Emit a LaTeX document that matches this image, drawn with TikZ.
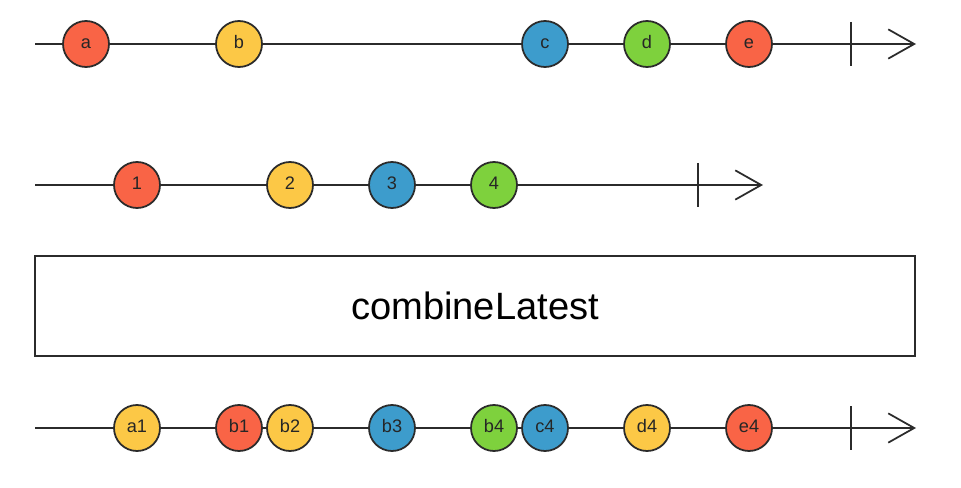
\documentclass[tikz,border=0pt]{standalone}
\usepackage{fontspec}
\setmainfont{Liberation Sans}
\usetikzlibrary{arrows.meta}
\definecolor{marbleRed}{HTML}{F96446}
\definecolor{marbleYellow}{HTML}{FCC846}
\definecolor{marbleBlue}{HTML}{3D9CCC}
\definecolor{marbleGreen}{HTML}{7ED13D}
\definecolor{lineGray}{HTML}{2B2B2B}

\begin{document}
\begin{tikzpicture}
[x=0.03cm,y=-0.03cm,
  lineDecorate/.style={draw=lineGray,line width=1.5pt},%
  arrowDecorate/.style={lineDecorate,-{Straight Barb[length=0.78cm 0,width=0.88cm 0]}},
  marbleDecorate/.style={shape=circle,draw=lineGray,line width=1.5pt,minimum size=1.38cm,
    inner sep=0pt,text=black!85,text height=0.716em,text depth=0pt,
    font=\fontsize{15.5}{15.5}\selectfont},
  opDecorate/.style={draw=lineGray,line width=1.5pt,minimum width=26.4cm,minimum height=3cm,
    font=\fontsize{32.5}{38}\selectfont}]
\useasboundingbox (0,0) rectangle (961,488);
%% timeline ends and ticks
\foreach \pointname/\x/\y in {
  s1/35/44, t1/916/44, ka1/851/22, kb1/851/66,
  s2/35/185, t2/763/185, ka2/698/163, kb2/698/207,
  s3/35/428, t3/916/428, ka3/851/406, kb3/851/450}
{
  \coordinate (\pointname) at (\x,\y);
}
%% timelines
\foreach \startnode/\endnode in {s1/t1, s2/t2, s3/t3}
{
  \draw[arrowDecorate] (\startnode) -- (\endnode);
}
\foreach \startnode/\endnode in {ka1/kb1, ka2/kb2, ka3/kb3}
{
  \draw[lineDecorate] (\startnode) -- (\endnode);
}
%% marbles
\foreach \nodename/\x/\y/\fillcolor in {
  a/86/44/marbleRed, b/239/44/marbleYellow, c/545/44/marbleBlue,
  d/647/44/marbleGreen, e/749/44/marbleRed,
  1/137/185/marbleRed, 2/290/185/marbleYellow, 3/392/185/marbleBlue,
  4/494/185/marbleGreen,
  a1/137/428/marbleYellow, b1/239/428/marbleRed, b2/290/428/marbleYellow,
  b3/392/428/marbleBlue, b4/494/428/marbleGreen, c4/545/428/marbleBlue,
  d4/647/428/marbleYellow, e4/749/428/marbleRed}
{
  \node (\nodename) at (\x,\y) [marbleDecorate,fill=\fillcolor] {\nodename};
}
%% operator box
\node (combine) at (475,306) [opDecorate] {combineLatest};
\end{tikzpicture}
\end{document}
